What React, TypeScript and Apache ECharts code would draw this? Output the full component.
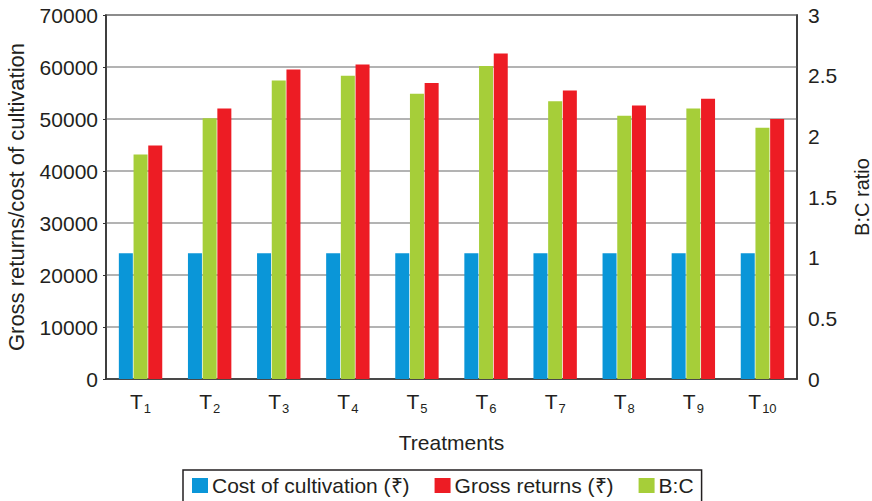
import React, { useEffect, useRef } from "react";
import * as echarts from "echarts";

const categories = ["1", "2", "3", "4", "5", "6", "7", "8", "9", "10"];
const costOfCultivation = [24200, 24200, 24200, 24200, 24200, 24200, 24200, 24200, 24200, 24200];
const grossReturns = [44900, 52000, 59500, 60500, 56900, 62600, 55500, 52600, 53900, 50000];
const bcRatio = [1.85, 2.15, 2.46, 2.5, 2.35, 2.58, 2.29, 2.17, 2.23, 2.07];
const leftTicks = { min: 0, max: 70000, interval: 10000 };
const rightTicks = { min: 0, max: 3, interval: 0.5 };

const FONT = "'Liberation Sans', Arial, sans-serif";

export default function App() {
  const ref = useRef<HTMLDivElement>(null);
  useEffect(() => {
    if (!ref.current) return;
    const chart = echarts.init(ref.current, null, { renderer: "svg" });
    chart.setOption({
      animation: false,
      textStyle: { fontFamily: FONT, color: "#231f20" },
      grid: {
        left: 106,
        right: 75,
        top: 15,
        bottom: 122,
        show: true,
        borderColor: "#333",
        borderWidth: 1.5,
        containLabel: false,
        outerBoundsMode: "none",
      },
      legend: {
        top: 470,
        left: 183,
        padding: [5, 8, 10, 9],
        borderColor: "#231f20",
        borderWidth: 1.5,
        itemWidth: 16,
        itemHeight: 15,
        itemGap: 25,
        icon: "rect",
        textStyle: { fontSize: 21, color: "#231f20", fontFamily: FONT, padding: [0, 0, 0, -1] },
        data: ["Cost of cultivation (₹)", "Gross returns (₹)", "B:C"],
      },
      xAxis: {
        type: "category",
        data: categories,
        name: "Treatments",
        nameLocation: "middle",
        nameGap: 53,
        nameTextStyle: { fontSize: 21, color: "#231f20" },
        axisLine: { lineStyle: { color: "#333", width: 1.5 } },
        axisTick: { show: false },
        axisLabel: {
          interval: 0,
          margin: 12,
          formatter: (v: string) => `{t|T}{s|${v}}`,
          rich: {
            t: { fontSize: 21, color: "#231f20", fontFamily: FONT, lineHeight: 24, verticalAlign: "top" },
            s: { fontSize: 13, color: "#231f20", fontFamily: FONT, lineHeight: 24, verticalAlign: "bottom", padding: [11, 0, 0, 1] },
          },
        },
      },
      yAxis: [
        {
          type: "value",
          ...leftTicks,
          name: "Gross returns/cost of cultivation",
          nameLocation: "middle",
          nameGap: 79,
          nameTextStyle: { fontSize: 22, color: "#231f20" },
          axisLine: { show: true, lineStyle: { color: "#333", width: 1.5 } },
          axisTick: { show: true, inside: false, length: 3, lineStyle: { color: "#333" } },
          axisLabel: { fontSize: 21, color: "#231f20", margin: 8, formatter: (v: number) => String(v) },
          splitLine: { show: true, lineStyle: { color: "#9a9a9a", width: 1.5 } },
        },
        {
          type: "value",
          ...rightTicks,
          name: "B:C ratio",
          nameLocation: "middle",
          nameGap: 55,
          nameTextStyle: { fontSize: 20, color: "#231f20" },
          axisLine: { show: true, lineStyle: { color: "#333", width: 1.5 } },
          axisTick: { show: false },
          axisLabel: { fontSize: 21, color: "#231f20", margin: 11, formatter: (v: number) => String(v) },
          splitLine: { show: false },
        },
      ],
      series: [
        {
          name: "Cost of cultivation (₹)",
          type: "bar",
          yAxisIndex: 0,
          data: costOfCultivation,
          barWidth: 14,
          barGap: "5%",
          itemStyle: { color: "#0a96d8" },
        },
        {
          name: "B:C",
          type: "bar",
          yAxisIndex: 1,
          data: bcRatio,
          barWidth: 14,
          barGap: "5%",
          itemStyle: { color: "#a6ce39" },
        },
        {
          name: "Gross returns (₹)",
          type: "bar",
          yAxisIndex: 0,
          data: grossReturns,
          barWidth: 14,
          barGap: "5%",
          itemStyle: { color: "#ed1c24" },
        },
      ],
    });
    return () => chart.dispose();
  }, []);
  return <div ref={ref} style={{ width: 872, height: 501, position: "absolute", left: 0, top: 0, background: "#fff" }} />;
}
